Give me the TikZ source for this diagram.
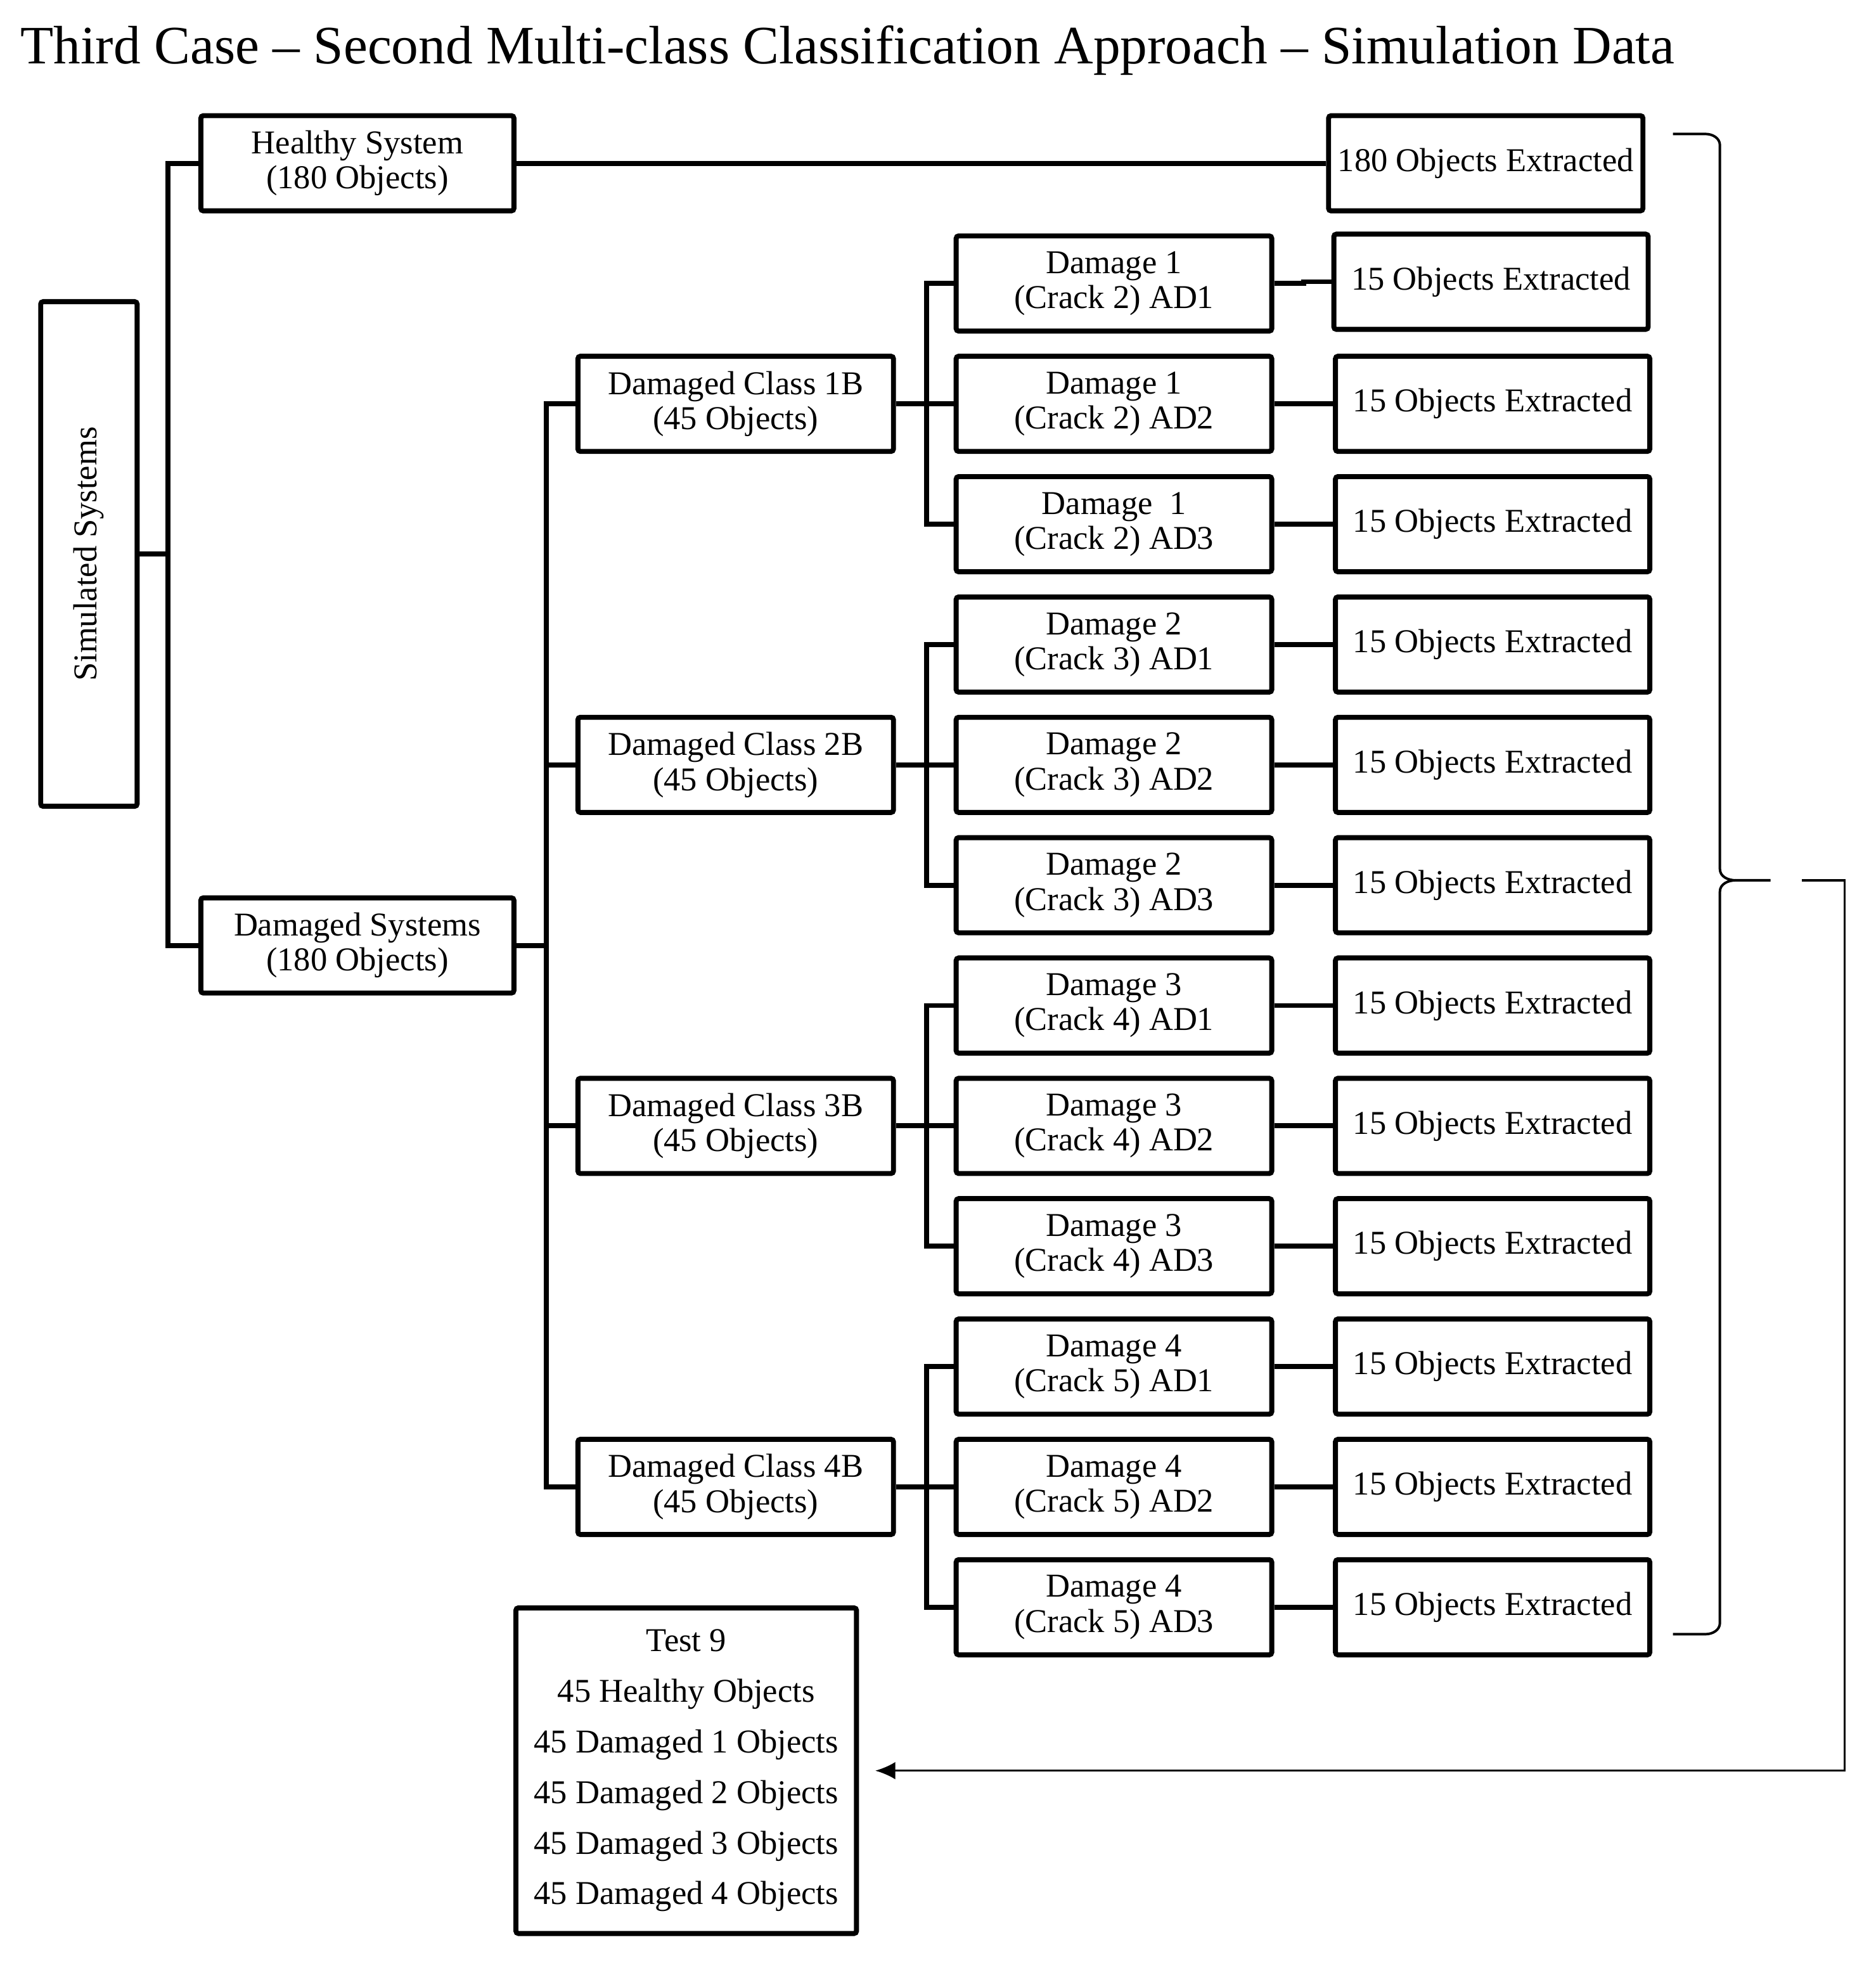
\documentclass[tikz,border=0pt]{standalone}
\usepackage{fontspec}
\usepackage{graphicx}
\setmainfont{Liberation Serif}
\usetikzlibrary{arrows.meta}
\newcommand{\bxfont}{\fontsize{13.3pt}{14pt}\selectfont}
\newcommand{\ttlfont}{\fontsize{21.6pt}{26pt}\selectfont}
\newcommand{\tstfont}{\fontsize{13.3pt}{20.2pt}\selectfont}
\begin{document}
\begin{tikzpicture}[x=0.5pt,y=-0.5pt,
  box/.style={draw,line width=2pt,rounded corners=1pt,inner sep=0pt,align=center,font=\bxfont,minimum width=126pt,minimum height=38pt},
  conn/.style={line width=2pt},
  thinline/.style={line width=1pt},
  arrowline/.style={line width=0.8pt,-{Latex[length=8pt,width=7pt]}}
  ]
\useasboundingbox (0,0) rectangle (1498,1566);
\node[anchor=base west,font=\ttlfont,inner sep=0pt] (title) at (16,50.8) {Third Case – Second Multi-class Classification Approach – Simulation Data};

% left column
\node[box,minimum width=38.5pt,minimum height=201.5pt] (sim) at (71,442.4) {\rotatebox{90}{Simulated Systems}};
\node[box,minimum width=125pt] (healthy) at (285.4,130.4) {Healthy System\\(180 Objects)};
\node[box,minimum width=125pt] (dsys) at (285.4,755) {Damaged Systems\\(180 Objects)};
\node[box,minimum width=125.5pt] (e0) at (1186.5,130.4) {180 Objects Extracted};

% class boxes
\node[box] (c1) at (587.5,322.5) {Damaged Class 1B\\(45 Objects)};
\node[box] (c2) at (587.5,610.8) {Damaged Class 2B\\(45 Objects)};
\node[box] (c3) at (587.5,899.1) {Damaged Class 3B\\(45 Objects)};
\node[box] (c4) at (587.5,1187.4) {Damaged Class 4B\\(45 Objects)};

% damage boxes
\node[box] (d1)  at (889.6,226.4)  {Damage 1\\(Crack 2) AD1};
\node[box] (d2)  at (889.6,322.5)  {Damage 1\\(Crack 2) AD2};
\node[box] (d3)  at (889.6,418.6)  {Damage\ \ 1\\(Crack 2) AD3};
\node[box] (d4)  at (889.6,514.7)  {Damage 2\\(Crack 3) AD1};
\node[box] (d5)  at (889.6,610.8)  {Damage 2\\(Crack 3) AD2};
\node[box] (d6)  at (889.6,706.9)  {Damage 2\\(Crack 3) AD3};
\node[box] (d7)  at (889.6,803.0)  {Damage 3\\(Crack 4) AD1};
\node[box] (d8)  at (889.6,899.1)  {Damage 3\\(Crack 4) AD2};
\node[box] (d9)  at (889.6,995.2)  {Damage 3\\(Crack 4) AD3};
\node[box] (d10) at (889.6,1091.3) {Damage 4\\(Crack 5) AD1};
\node[box] (d11) at (889.6,1187.4) {Damage 4\\(Crack 5) AD2};
\node[box] (d12) at (889.6,1283.5) {Damage 4\\(Crack 5) AD3};

% extracted boxes
\node[box,minimum width=125.5pt] (e1) at (1190.7,225) {15 Objects Extracted};
\foreach \i/\y in {2/322.5,3/418.6,4/514.7,5/610.8,6/706.9,7/803.0,8/899.1,9/995.2,10/1091.3,11/1187.4,12/1283.5}{
  \node[box,minimum width=125.5pt] (e\i) at (1192,\y) {15 Objects Extracted};
}

% test box
\node[draw,line width=2pt,rounded corners=1pt,inner sep=0pt,align=center,font=\tstfont,minimum width=136pt,minimum height=130pt] (test) at (548,1414) {Test 9\\45 Healthy Objects\\45 Damaged 1 Objects\\45 Damaged 2 Objects\\45 Damaged 3 Objects\\45 Damaged 4 Objects};

% connectors: level 1
\coordinate (t1) at (134,442.4);
\draw[conn] (sim.east) -- (t1);
\draw[conn] (healthy.west) -| (t1) |- (dsys.west);
\draw[conn] (healthy.east) -- (e0.west);

% level 2
\coordinate (t2) at (436.5,755);
\draw[conn] (dsys.east) -- (t2);
\draw[conn] (c1.west) -| (t2) |- (c4.west);
\draw[conn] (c2.west) -- (c2.west -| t2);
\draw[conn] (c3.west) -- (c3.west -| t2);

% level 3
\foreach \k in {1,2,3,4}{
  \pgfmathtruncatemacro\f{3*\k-2}
  \pgfmathtruncatemacro\m{3*\k-1}
  \pgfmathtruncatemacro\l{3*\k}
  \path (c\k.east) ++(24.5,0) coordinate (b\k);
  \draw[conn] (d\f.west) -| (b\k) |- (d\l.west);
  \draw[conn] (c\k.east) -- (d\m.west);
}

% level 4
\draw[conn] (d1.east) -- ++(23.5,0) |- (e1.west);
\foreach \i in {2,...,12}{
  \draw[conn] (d\i.east) -- (e\i.west);
}

% brace
\draw[thinline] (1336,107) -- (1362,107) to[out=0,in=90] (1373.5,116) -- (1373.5,694) to[out=-90,in=180] (1386,703) -- (1414,703);
\draw[thinline] (1386,703) to[out=180,in=90] (1373.5,712) -- (1373.5,1296) to[out=-90,in=0] (1362,1305) -- (1336,1305);

% arrow to test
\coordinate (as) at (1439,703);
\coordinate (ac) at (1473,703);
\draw[arrowline] (as) -- (ac) |- ([xshift=6.5pt]test.east);
\end{tikzpicture}
\end{document}
